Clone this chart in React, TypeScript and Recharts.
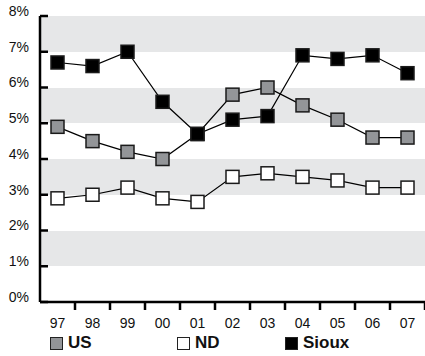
import { LineChart, Line, XAxis, YAxis, CartesianGrid, Legend } from "recharts";

const years = ["97", "98", "99", "00", "01", "02", "03", "04", "05", "06", "07"];
const us = [4.9, 4.5, 4.2, 4.0, 4.7, 5.8, 6.0, 5.5, 5.1, 4.6, 4.6];
const nd = [2.9, 3.0, 3.2, 2.9, 2.8, 3.5, 3.6, 3.5, 3.4, 3.2, 3.2];
const sioux = [6.7, 6.6, 7.0, 5.6, 4.7, 5.1, 5.2, 6.9, 6.8, 6.9, 6.4];
const yTicks = [0, 1, 2, 3, 4, 5, 6, 7, 8];

const series = [
  { key: "US", values: us, fill: "#939598" },
  { key: "ND", values: nd, fill: "#ffffff" },
  { key: "Sioux", values: sioux, fill: "#000000" },
];

const data = years.map((y, i) => ({ year: y, US: us[i], ND: nd[i], Sioux: sioux[i] }));

const W = 425;
const H = 356;
const Y_AXIS_W = 40;
const STEP = (W - Y_AXIS_W) / years.length;
const FONT = "'Liberation Sans', Arial, sans-serif";

const SquareDot = (fill: string) => (props: any) => {
  const { cx, cy, index } = props;
  if (cx == null || cy == null) return null;
  return <rect key={index} x={cx - 6.5} y={cy - 6.5} width={13} height={13} fill={fill} stroke="#1a1a1a" strokeWidth={1.5} />;
};

const XTick = (props: any) => {
  const { x, y, payload } = props;
  return (
    <g>
      <line x1={x + STEP / 2} x2={x + STEP / 2} y1={y - 8} y2={y} stroke="#000" strokeWidth={2.5} />
      <text x={x} y={y + 18} textAnchor="middle" fontSize={14} fontFamily={FONT} fill="#111">{payload.value}</text>
    </g>
  );
};

const LegendBox = () => (
  <div style={{ display: "flex", fontFamily: FONT, fontWeight: "bold", fontSize: 17, color: "#111", height: 26, alignItems: "center" }}>
    {series.map((s, i) => (
      <div key={s.key} style={{ display: "flex", alignItems: "center", width: i === 0 ? 127 : 108, marginLeft: i === 0 ? 50 : 0 }}>
        <span style={{ width: 11, height: 11, background: s.fill, border: "1.5px solid #222", marginRight: 5 }} />
        <span>{s.key}</span>
      </div>
    ))}
  </div>
);

export default function App() {
  return (
    <div style={{ position: "absolute", left: 0, top: 0, background: "#fff" }}>
      <LineChart width={W} height={H} data={data} margin={{ top: 16, right: 0, left: 0, bottom: 0 }}>
        <CartesianGrid vertical={false} stroke="none" horizontalFill={["#e6e7e8", "#ffffff"]} fillOpacity={1} />
        <XAxis
          dataKey="year"
          padding={{ left: STEP / 2, right: STEP / 2 }}
          height={28}
          axisLine={{ stroke: "#000", strokeWidth: 2.5 }}
          tickLine={false}
          tick={<XTick />}
          interval={0}
        />
        <YAxis
          width={Y_AXIS_W}
          domain={[0, 8]}
          ticks={yTicks}
          tickFormatter={(v) => `${v}%`}
          axisLine={{ stroke: "#000", strokeWidth: 2.5 }}
          tickLine={{ stroke: "#000", strokeWidth: 2.5 }}
          tickSize={-8}
          tickMargin={19}
          tick={{ fontSize: 14, fontFamily: FONT, fill: "#111", dy: -5 }}
        />
        <Legend verticalAlign="bottom" align="left" content={<LegendBox />} wrapperStyle={{ height: 26 }} />
        {[series[1], series[0], series[2]].map((s) => (
          <Line
            key={s.key}
            dataKey={s.key}
            stroke="#000"
            strokeWidth={1.2}
            dot={SquareDot(s.fill)}
            activeDot={false}
            isAnimationActive={false}
          />
        ))}
      </LineChart>
    </div>
  );
}
